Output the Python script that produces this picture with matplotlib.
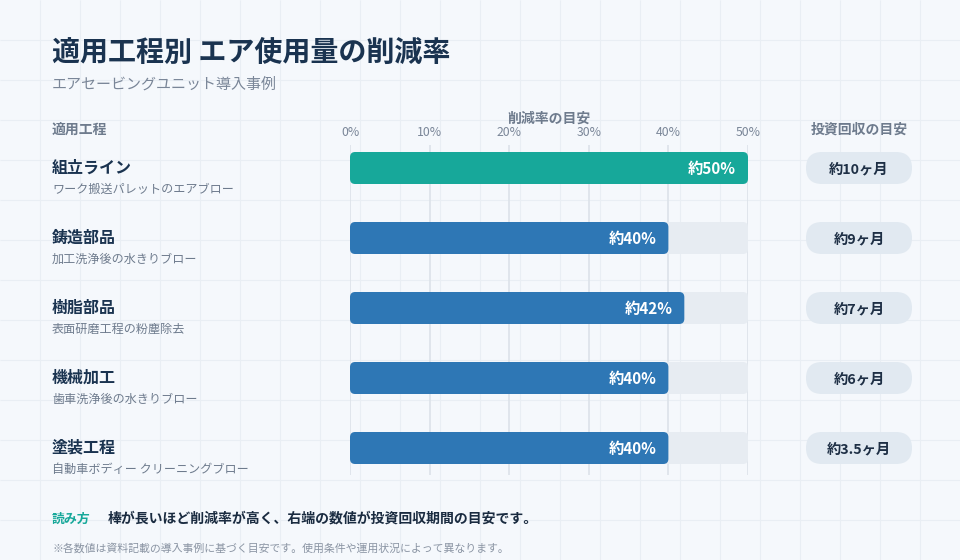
import matplotlib
matplotlib.use("Agg")
import matplotlib.pyplot as plt
from matplotlib.patches import FancyBboxPatch
from matplotlib.transforms import blended_transform_factory

plt.rcParams['font.family'] = ['Noto Sans CJK JP', 'DejaVu Sans']

# data
processes = ["組立ライン", "鋳造部品", "樹脂部品", "機械加工", "塗装工程"]
uses = ["ワーク搬送パレットのエアブロー", "加工洗浄後の水きりブロー", "表面研磨工程の粉塵除去",
        "歯車洗浄後の水きりブロー", "自動車ボディー クリーニングブロー"]
reduction = [50, 40, 42, 40, 40]
payback = ["約10ヶ月", "約9ヶ月", "約7ヶ月", "約6ヶ月", "約3.5ヶ月"]
ticks = [0, 10, 20, 30, 40, 50]
x_max = 50

BG = '#f5f8fc'
NAVY = '#1a3350'
GRAY = '#6e7b8d'
TEAL = '#17a89a'
BLUE = '#2e77b5'
TRACK = '#e7ecf2'
PILL = '#e1e9f1'

fig = plt.figure(figsize=(9.6, 5.6), dpi=100)
fig.patch.set_facecolor(BG)

# background in pixel units with a faint 40px grid
bg = fig.add_axes([0, 0, 1, 1])
bg.set_xlim(0, 960)
bg.set_ylim(560, 0)
bg.axis('off')
bg.vlines(range(40, 960, 40), 0, 560, color='#e9eef4', lw=0.8, zorder=0)
bg.hlines(range(40, 560, 40), 0, 960, color='#e9eef4', lw=0.8, zorder=0)

# bar axes: 0..50% between x=350 and x=748 px, rows every 70px
top_px, bot_px, row0_px, row_px = 145, 475, 168, 70
ax = fig.add_axes([350 / 960, 1 - bot_px / 560, 398 / 960, (bot_px - top_px) / 560])
ax.set_xlim(0, x_max)
ax.set_ylim((bot_px - row0_px) / row_px, (top_px - row0_px) / row_px)
ax.patch.set_alpha(0)
for s in ax.spines.values():
    s.set_visible(False)
ax.xaxis.tick_top()
ax.set_xticks(ticks)
ax.set_xticklabels([f"{t}%" for t in ticks])
ax.tick_params(axis='x', length=0, pad=4, labelsize=8.8, labelcolor='#7a8698')
ax.set_yticks([])
ax.grid(axis='x', color='#dce2e9', lw=1.2)
ax.set_axisbelow(True)

bar_h = 32 / row_px
asp = (1 / row_px) / (x_max / 398)
for i, v in enumerate(reduction):
    track = FancyBboxPatch((0, i - bar_h / 2), x_max, bar_h,
                           boxstyle="round,pad=0,rounding_size=0.65",
                           mutation_aspect=asp, fc=TRACK, ec='none', zorder=2)
    ax.add_patch(track)
    bar = FancyBboxPatch((0, i - bar_h / 2), v, bar_h,
                         boxstyle="round,pad=0,rounding_size=0.65",
                         mutation_aspect=asp, fc=TEAL if i == 0 else BLUE,
                         ec='none', zorder=3)
    ax.add_patch(bar)
    ax.text(v - 1.5, i + 0.015, f"約{v}%", ha='right', va='center', color='white',
            fontsize=11, fontweight='bold', zorder=4)

# labels and pills: x in pixels, y in row units
tr = blended_transform_factory(bg.transData, ax.transData)
for i, (p, u, pb) in enumerate(zip(processes, uses, payback)):
    bg.text(52, i, p, transform=tr, ha='left', va='center', fontsize=11.5,
            fontweight='bold', color=NAVY)
    bg.text(52, i + 21 / row_px, u, transform=tr, ha='left', va='center',
            fontsize=8.7, color=GRAY)
    pill = FancyBboxPatch((806, i - 16 / row_px), 106, 32 / row_px,
                          boxstyle="round,pad=0,rounding_size=16",
                          mutation_aspect=1 / row_px, transform=tr,
                          fc=PILL, ec='none', zorder=2)
    bg.add_patch(pill)
    bg.text(859, i + 0.02, pb, transform=tr, ha='center', va='center', fontsize=10.3,
            fontweight='bold', color='#1e2f45', zorder=3)

# titles and headers
bg.text(52, 53, "適用工程別 エア使用量の削減率", ha='left', va='center',
        fontsize=20.2, fontweight='bold', color=NAVY)
bg.text(52, 84, "エアセービングユニット導入事例", ha='left', va='center',
        fontsize=10.8, color='#7a8698')
bg.text(52, 130, "適用工程", ha='left', va='center', fontsize=10,
        fontweight='bold', color=GRAY)
bg.text(549, 119, "削減率の目安", ha='center', va='center', fontsize=10,
        fontweight='bold', color=GRAY)
bg.text(859, 130, "投資回収の目安", ha='center', va='center', fontsize=10,
        fontweight='bold', color=GRAY)

# footer
bg.text(52, 519, "読み方", ha='left', va='center', fontsize=9.3,
        fontweight='bold', color=TEAL)
bg.text(108, 519, "棒が長いほど削減率が高く、右端の数値が投資回収期間の目安です。",
        ha='left', va='center', fontsize=10, fontweight='bold', color='#1a2b40')
bg.text(52, 548, "※各数値は資料記載の導入事例に基づく目安です。使用条件や運用状況によって異なります。",
        ha='left', va='center', fontsize=7.85, color='#8a94a3')

fig.savefig('out.png', dpi=100, facecolor=fig.get_facecolor())
